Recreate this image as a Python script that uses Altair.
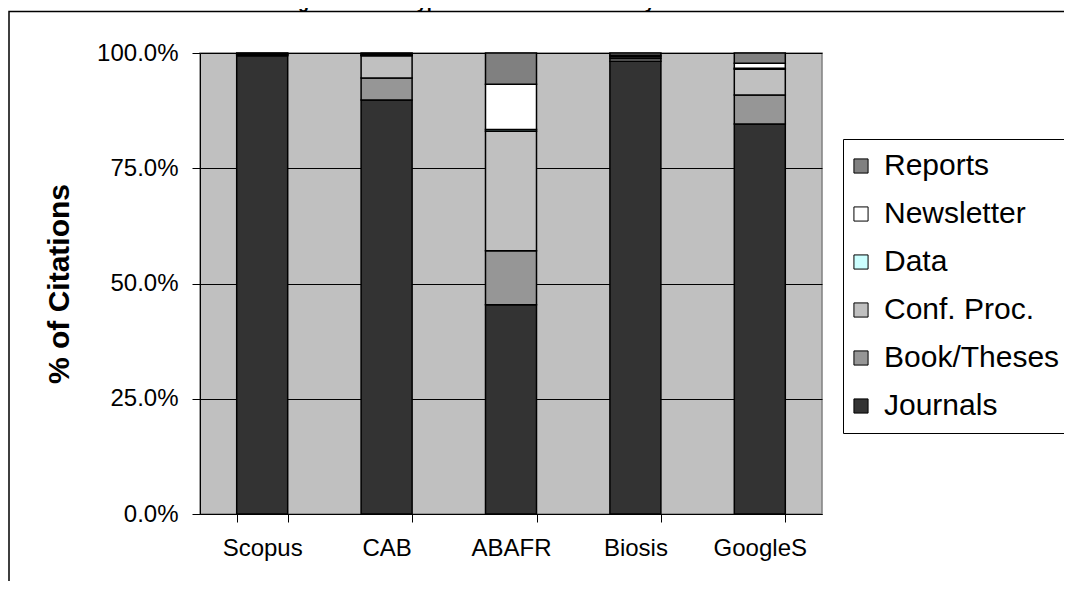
import altair as alt
import pandas as pd

databases = ["Scopus", "CAB", "ABAFR", "Biosis", "GoogleS"]
doc_types = ["Journals", "Book/Theses", "Conf. Proc.", "Data", "Newsletter", "Reports"]
journals = [99.4, 89.8, 45.4, 98.2, 84.6]
book_theses = [0.2, 4.8, 11.7, 0.6, 6.3]
conf_proc = [0.2, 4.8, 25.9, 0.4, 5.6]
data_vals = [0.0, 0.1, 0.4, 0.0, 0.2]
newsletter = [0.1, 0.2, 9.8, 0.3, 1.1]
reports = [0.1, 0.3, 6.8, 0.5, 2.2]
colors = ["#333333", "#969696", "#C0C0C0", "#CCFFFF", "#FFFFFF", "#808080"]
title_text = "Citing Document Type of Citations Covered by Database"

series = [journals, book_theses, conf_proc, data_vals, newsletter, reports]
rows = []
for ti, (t, vals) in enumerate(zip(doc_types, series)):
    for db, v in zip(databases, vals):
        if v > 0:
            rows.append({"db": db, "type": t, "order": ti, "value": v / 100.0})
df = pd.DataFrame(rows)

FONT = "Liberation Sans"
legend_order = list(reversed(doc_types))
legend_colors = list(reversed(colors))

bars = alt.Chart(df).mark_bar(stroke="black", strokeWidth=1.5).encode(
    x=alt.X("db:N", sort=databases, title=None,
            scale=alt.Scale(paddingInner=0.59, paddingOuter=0.295),
            axis=alt.Axis(labelAngle=0, labelFontSize=24, labelFont=FONT, labelColor="black",
                          tickBand="extent", tickSize=8, tickColor="black", domainColor="black",
                          labelPadding=14, grid=False)),
    y=alt.Y("value:Q", stack="zero", scale=alt.Scale(domain=[0, 1], nice=False),
            title="% of Citations",
            axis=alt.Axis(format=".1%", values=[0, 0.25, 0.5, 0.75, 1.0], labelFontSize=24,
                          labelFont=FONT, labelColor="black", tickSize=8, tickColor="black",
                          domainColor="black", labelPadding=14, grid=True, gridColor="black",
                          gridWidth=1, gridOpacity=1, titleFont=FONT, titleFontSize=30,
                          titleFontWeight="bold", titleColor="black", titlePadding=22)),
    color=alt.Color("type:N", scale=alt.Scale(domain=legend_order, range=legend_colors),
                    legend=alt.Legend(orient="none", legendX=643, legendY=86, title=None,
                                      labelFontSize=30, labelFont=FONT, labelColor="black",
                                      labelLimit=0,
                                      symbolType="square", symbolSize=200, symbolStrokeColor="black",
                                      symbolStrokeWidth=1, symbolOpacity=1, symbolOffset=-9,
                                      strokeColor="black",
                                      fillColor="white", padding=12, rowPadding=18, labelOffset=8)),
    order=alt.Order("order:Q", sort="ascending"),
)

frame = alt.Chart(pd.DataFrame({"a": [0]})).mark_rect(
    fill="white", fillOpacity=0, stroke="black", strokeWidth=1.5
).encode(x=alt.value(-191), y=alt.value(-41.5), x2=alt.value(1000), y2=alt.value(700))

title = alt.Chart(pd.DataFrame({"t": [title_text]})).mark_text(
    align="left", baseline="alphabetic", fontSize=18, fontWeight="bold", font=FONT, color="black"
).encode(x=alt.value(58), y=alt.value(-45.5), text="t:N")

chart = alt.layer(frame, bars, title).properties(
    width=622, height=461,
    autosize=alt.AutoSizeParams(type="none"),
    padding={"left": 192, "top": 45, "right": 242, "bottom": 67},
    background="white",
).configure_view(fill="#C0C0C0", stroke="#808080", strokeWidth=1.5)

chart.save("out.html", embed_options={"renderer": "svg", "actions": False})
